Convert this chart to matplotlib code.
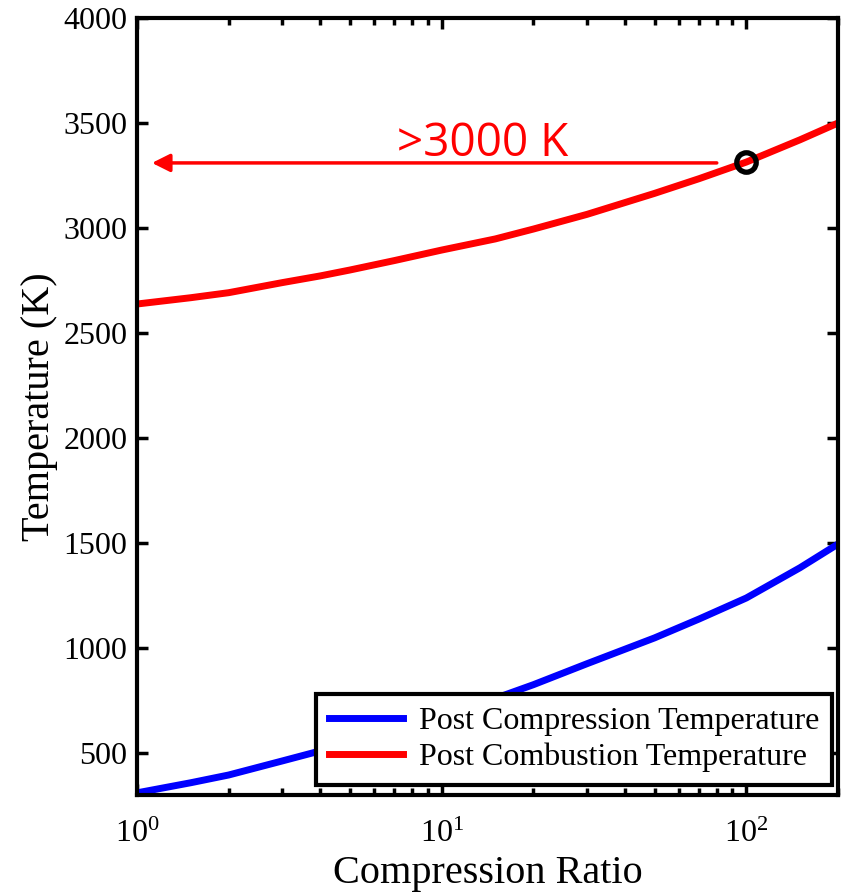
import matplotlib
matplotlib.use('Agg')
import matplotlib.pyplot as plt

plt.rcParams['font.family'] = ['Liberation Serif', 'DejaVu Serif']
plt.rcParams['mathtext.fontset'] = 'custom'
plt.rcParams['mathtext.rm'] = 'Liberation Serif'
plt.rcParams['mathtext.it'] = 'Liberation Serif:italic'
plt.rcParams['mathtext.bf'] = 'Liberation Serif:bold'

# compression ratio values
ratio = [1, 1.5, 2, 3, 4, 5, 7, 10, 15, 20, 30, 50, 70, 100, 150, 200]
# post compression temperature (K)
t_compression = [310, 358, 395, 462, 510, 553, 615, 683, 760, 825, 925, 1048, 1138, 1238, 1382, 1495]
# post combustion temperature (K)
t_combustion = [2638, 2668, 2692, 2740, 2772, 2800, 2845, 2895, 2948, 2995, 3065, 3165, 3235, 3314, 3420, 3500]

marker_ratio = 100
marker_temp = 3314
arrow_from = 80
arrow_to = 1.12
arrow_temp = 3310
label_text = '>3000 K'

fig = plt.figure(figsize=(8.47, 8.93), dpi=100)
ax = fig.add_axes([0.1617, 0.1098, 0.8277, 0.8700])

ax.plot(ratio, t_compression, color='#0000ff', lw=5, label='Post Compression Temperature')
ax.plot(ratio, t_combustion, color='#ff0000', lw=5, label='Post Combustion Temperature')

# highlighted point on the combustion curve
ax.plot([marker_ratio], [marker_temp], 'o', mfc='none', mec='black', mew=3.8, ms=14, zorder=5)

# arrow pointing back to the axis
ax.annotate('', xy=(arrow_to, arrow_temp), xytext=(arrow_from, arrow_temp),
            arrowprops=dict(arrowstyle='-|>', color='red', lw=2.5, mutation_scale=27,
                            shrinkA=0, shrinkB=0))
ax.text(13.6, 3345, label_text, color='red', fontsize=33, family=['Open Sans', 'DejaVu Sans'],
        ha='center', va='baseline')

ax.set_xscale('log')
ax.set_xlim(1, 200)
ax.set_ylim(300, 4000)
ax.set_yticks([500, 1000, 1500, 2000, 2500, 3000, 3500, 4000])

ax.set_xlabel('Compression Ratio', fontsize=29, labelpad=4)
ax.set_ylabel('Temperature (K)', fontsize=29, labelpad=4)

for s in ax.spines.values():
    s.set_linewidth(3)
ax.tick_params(which='both', direction='in', top=True, right=True, width=2.5, labelsize=23)
ax.tick_params(which='major', length=8)
ax.tick_params(axis='y', which='major', pad=7)
ax.tick_params(axis='x', which='major', pad=18)
ax.tick_params(which='minor', length=5)

leg = ax.legend(loc='lower right', bbox_to_anchor=(0.991, 0.013), fontsize=23,
                handlelength=2.3, fancybox=False, framealpha=1, borderaxespad=0,
                borderpad=0.4, labelspacing=0.2, handletextpad=0.5)
leg.get_frame().set_edgecolor('black')
leg.get_frame().set_linewidth(3)

fig.savefig('out.png', dpi=100)
